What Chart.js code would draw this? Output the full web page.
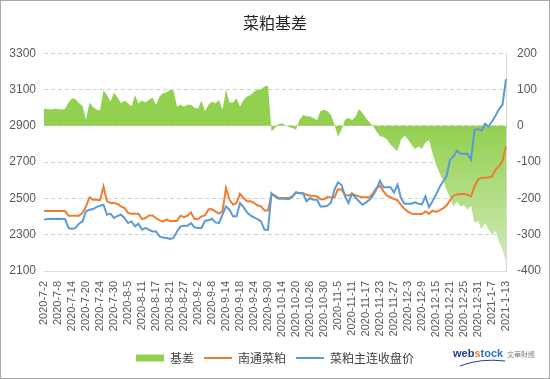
<!DOCTYPE html>
<html>
<head>
<meta charset="utf-8">
<script src="https://cdn.jsdelivr.net/npm/chart.js@4/dist/chart.umd.min.js"></script>
<style>
  body { margin: 0; background: #fff; }
  canvas { display: block; }
</style>
</head>
<body>
<canvas id="basis-chart" width="550" height="379"></canvas>
<script>
// trading days, 2020-7-2 .. 2021-1-13
const dates = [
  "2020-7-2","2020-7-3","2020-7-6","2020-7-7","2020-7-8","2020-7-9","2020-7-10","2020-7-13","2020-7-14","2020-7-15",
  "2020-7-16","2020-7-17","2020-7-20","2020-7-21","2020-7-22","2020-7-23","2020-7-24","2020-7-27","2020-7-28","2020-7-29",
  "2020-7-30","2020-7-31","2020-8-3","2020-8-4","2020-8-5","2020-8-6","2020-8-7","2020-8-10","2020-8-11","2020-8-12",
  "2020-8-13","2020-8-14","2020-8-17","2020-8-18","2020-8-19","2020-8-20","2020-8-21","2020-8-24","2020-8-25","2020-8-26",
  "2020-8-27","2020-8-28","2020-8-31","2020-9-1","2020-9-2","2020-9-3","2020-9-4","2020-9-7","2020-9-8","2020-9-9",
  "2020-9-10","2020-9-11","2020-9-14","2020-9-15","2020-9-16","2020-9-17","2020-9-18","2020-9-21","2020-9-22","2020-9-23",
  "2020-9-24","2020-9-25","2020-9-28","2020-9-29","2020-9-30","2020-10-9","2020-10-12","2020-10-13","2020-10-14","2020-10-15",
  "2020-10-16","2020-10-19","2020-10-20","2020-10-21","2020-10-22","2020-10-23","2020-10-26","2020-10-27","2020-10-28","2020-10-29",
  "2020-10-30","2020-11-2","2020-11-3","2020-11-4","2020-11-5","2020-11-6","2020-11-9","2020-11-10","2020-11-11","2020-11-12",
  "2020-11-13","2020-11-16","2020-11-17","2020-11-18","2020-11-19","2020-11-20","2020-11-23","2020-11-24","2020-11-25","2020-11-26",
  "2020-11-27","2020-11-30","2020-12-1","2020-12-2","2020-12-3","2020-12-4","2020-12-7","2020-12-8","2020-12-9","2020-12-10",
  "2020-12-11","2020-12-14","2020-12-15","2020-12-16","2020-12-17","2020-12-18","2020-12-21","2020-12-22","2020-12-23","2020-12-24",
  "2020-12-25","2020-12-28","2020-12-29","2020-12-30","2020-12-31","2021-1-4","2021-1-5","2021-1-6","2021-1-7","2021-1-8",
  "2021-1-11","2021-1-12","2021-1-13"
];
const labelEvery = 4;

// 南通菜粕 (left axis)
const nantong = [
  2430,2430,2430,2430,2430,2430,2430,
  2405,2405,2405,2405,
  2420,2456,2505,2493,2493,2490,2566,2484,2475,
  2475,2470,2456,2447,2420,2416,2416,2416,2386,2392,
  2406,2406,2392,2380,2372,2384,2375,2375,2375,2405,
  2397,2405,2423,2386,2386,2401,2406,2440,2440,2428,
  2416,2430,2557,2493,2466,2474,2526,2502,2484,2484,
  2475,2462,2456,2434,2434,2520,2516,2502,2502,2502,
  2502,2511,2533,2529,2529,2520,2515,2515,2511,2496,
  2496,2507,2505,2505,2551,2548,2520,2515,2526,2517,
  2511,2507,2507,2507,2529,2557,2570,2539,2515,2507,
  2496,2489,2465,2441,2427,2416,2414,2414,2414,2428,
  2416,2432,2425,2434,2445,2460,2489,2515,2522,2524,
  2524,2520,2511,2566,2603,2614,2614,2615,2621,2658,
  2676,2707,2786
];

// 菜粕主连收盘价 (left axis)
const mainClose = [
  2383,2386,2388,2386,2388,2386,2386,
  2337,2331,2337,2361,
  2374,2429,2438,2441,2452,2460,2465,2410,2416,
  2392,2404,2410,2392,2364,2373,2346,2360,2327,2337,
  2327,2318,2318,2291,2285,2282,2276,2282,2318,2346,
  2349,2349,2364,2340,2337,2337,2377,2379,2388,2368,
  2364,2410,2456,2438,2401,2401,2474,2452,2423,2406,
  2395,2386,2373,2327,2327,2529,2511,2498,2498,2498,
  2496,2511,2533,2529,2529,2484,2502,2493,2493,2456,
  2456,2460,2478,2548,2588,2575,2511,2474,2526,2506,
  2484,2465,2478,2493,2515,2551,2597,2562,2562,2562,
  2533,2575,2502,2471,2471,2471,2478,2471,2467,2511,
  2452,2484,2520,2562,2593,2621,2713,2731,2764,2746,
  2746,2746,2713,2878,2882,2874,2911,2896,2924,2955,
  2992,3016,3157
];

// 基差 (right axis)
const basis = [
  48,46,45,47,46,45,46,
  64,76,74,62,
  55,17,64,52,45,42,97,85,67,
  92,78,62,70,62,53,84,62,70,64,
  72,78,58,81,90,92,99,97,53,58,
  53,58,58,50,48,70,40,58,67,62,
  71,44,99,64,64,76,53,71,81,85,
  94,99,101,108,110,-16,-6,5,7,0,
  -3,-6,-11,16,30,26,26,21,16,40,
  44,40,30,3,-31,-11,17,22,16,25,
  46,35,21,10,0,-16,-28,-31,-38,-52,
  -61,-70,-38,-27,-38,-52,-64,-57,-64,-46,
  -40,-75,-107,-130,-149,-176,-199,-222,-208,-222,
  -218,-231,-220,-268,-262,-285,-268,-285,-300,-290,
  -320,-342,-376
];

const priceRange = [2100, 3300, 200];
const basisRange = [-400, 200, 100];

const green = "#92D050";
const orange = "#ED7D31";
const blue = "#5B9BD5";

Chart.defaults.font.family = "'Liberation Sans', 'Noto Sans CJK SC', sans-serif";
Chart.defaults.color = "#595959";

function basisFill(context) {
  const { chart } = context;
  const { ctx, chartArea, scales } = chart;
  if (!chartArea || !scales.y1) return green;
  const top = scales.y1.getPixelForValue(0);
  const bottom = scales.y1.getPixelForValue(basisRange[0]);
  const g = ctx.createLinearGradient(0, top, 0, bottom);
  g.addColorStop(0, green);
  g.addColorStop(1, "#d4ecbf");
  return g;
}

// frame + webstock mark
const extras = {
  id: "extras",
  afterDraw(chart) {
    const ctx = chart.ctx;
    ctx.save();
    ctx.strokeStyle = "#a9a9a9";
    ctx.lineWidth = 1;
    ctx.strokeRect(0.5, 0.5, chart.width - 1, chart.height - 1);

    ctx.textBaseline = "alphabetic";
    ctx.font = "bold 11px 'Liberation Sans', sans-serif";
    ctx.fillStyle = "#1d3f8f";
    ctx.fillText("web", 453, 357);
    let w = ctx.measureText("web").width;
    ctx.fillStyle = "#e8891c";
    ctx.fillText("s", 453 + w, 357);
    w += ctx.measureText("s").width;
    ctx.fillStyle = "#2b6fc9";
    ctx.fillText("tock", 453 + w, 357);

    ctx.strokeStyle = "#1d3f8f";
    ctx.lineWidth = 1;
    ctx.beginPath();
    ctx.moveTo(460, 366);
    ctx.quadraticCurveTo(480, 358, 505, 361);
    ctx.stroke();

    ctx.font = "7px 'Noto Sans CJK SC', sans-serif";
    ctx.fillStyle = "#7f7f7f";
    ctx.fillText("文華財經", 507, 357);
    ctx.restore();
  }
};

const chartConfig = {
  type: "line",
  data: {
    labels: dates,
    datasets: [
      {
        label: "基差",
        data: basis,
        yAxisID: "y1",
        borderWidth: 0,
        borderColor: green,
        backgroundColor: basisFill,
        fill: "origin",
        pointRadius: 0,
        tension: 0,
        order: 2,
      },
      {
        label: "南通菜粕",
        data: nantong,
        yAxisID: "y",
        borderColor: orange,
        borderWidth: 2,
        pointRadius: 0,
        fill: false,
        tension: 0,
        order: 1,
      },
      {
        label: "菜粕主连收盘价",
        data: mainClose,
        yAxisID: "y",
        borderColor: blue,
        borderWidth: 2,
        pointRadius: 0,
        fill: false,
        tension: 0,
        order: 0,
      },
    ],
  },
  options: {
    responsive: false,
    animation: false,
    layout: { padding: { top: 0, left: 0, right: 0, bottom: 5 } },
    plugins: {
      title: {
        display: true,
        text: "菜粕基差",
        color: "#262626",
        font: { size: 16, weight: "normal", family: "'Noto Sans CJK SC', sans-serif" },
        padding: { top: 13, bottom: 21 },
      },
      legend: {
        position: "bottom",
        labels: {
          usePointStyle: true,
          pointStyleWidth: 28,
          boxHeight: 7,
          padding: 10,
          color: "#404040",
          font: { size: 12, family: "'Noto Sans CJK SC', sans-serif" },
          generateLabels: () => [
            { text: "基差", fillStyle: green, strokeStyle: green, lineWidth: 0, pointStyle: "rect", datasetIndex: 0, hidden: false, fontColor: "#404040" },
            { text: "南通菜粕", fillStyle: orange, strokeStyle: orange, lineWidth: 2, pointStyle: "line", datasetIndex: 1, hidden: false, fontColor: "#404040" },
            { text: "菜粕主连收盘价", fillStyle: blue, strokeStyle: blue, lineWidth: 2, pointStyle: "line", datasetIndex: 2, hidden: false, fontColor: "#404040" },
          ],
        },
      },
      tooltip: { enabled: false },
    },
    scales: {
      x: {
        type: "category",
        offset: false,
        grid: { display: false },
        border: { display: true, color: "#d9d9d9" },
        ticks: {
          autoSkip: false,
          minRotation: 90,
          maxRotation: 90,
          padding: 2,
          font: { size: 11 },
          callback: function (value, index) {
            return index % labelEvery === 0 ? dates[index] : "";
          },
        },
        afterFit: (scale) => { scale.height = 71; },
      },
      y: {
        position: "left",
        min: priceRange[0],
        max: priceRange[1],
        grid: { color: "#d0d0d0", drawTicks: false, borderDash: [4, 3] },
        border: { display: false, dash: [4, 3] },
        ticks: { stepSize: priceRange[2], padding: 8, font: { size: 12 }, callback: (v) => String(v) },
        afterFit: (scale) => { scale.width = 44; },
      },
      y1: {
        position: "right",
        min: basisRange[0],
        max: basisRange[1],
        grid: { display: false, drawTicks: false },
        border: { display: true, color: "#d9d9d9" },
        ticks: { stepSize: basisRange[2], padding: 11, font: { size: 12 }, callback: (v) => String(v) },
        afterFit: (scale) => { scale.width = 44; },
      },
    },
  },
  plugins: [extras],
};

new Chart(document.getElementById("basis-chart"), chartConfig);
</script>
</body>
</html>
